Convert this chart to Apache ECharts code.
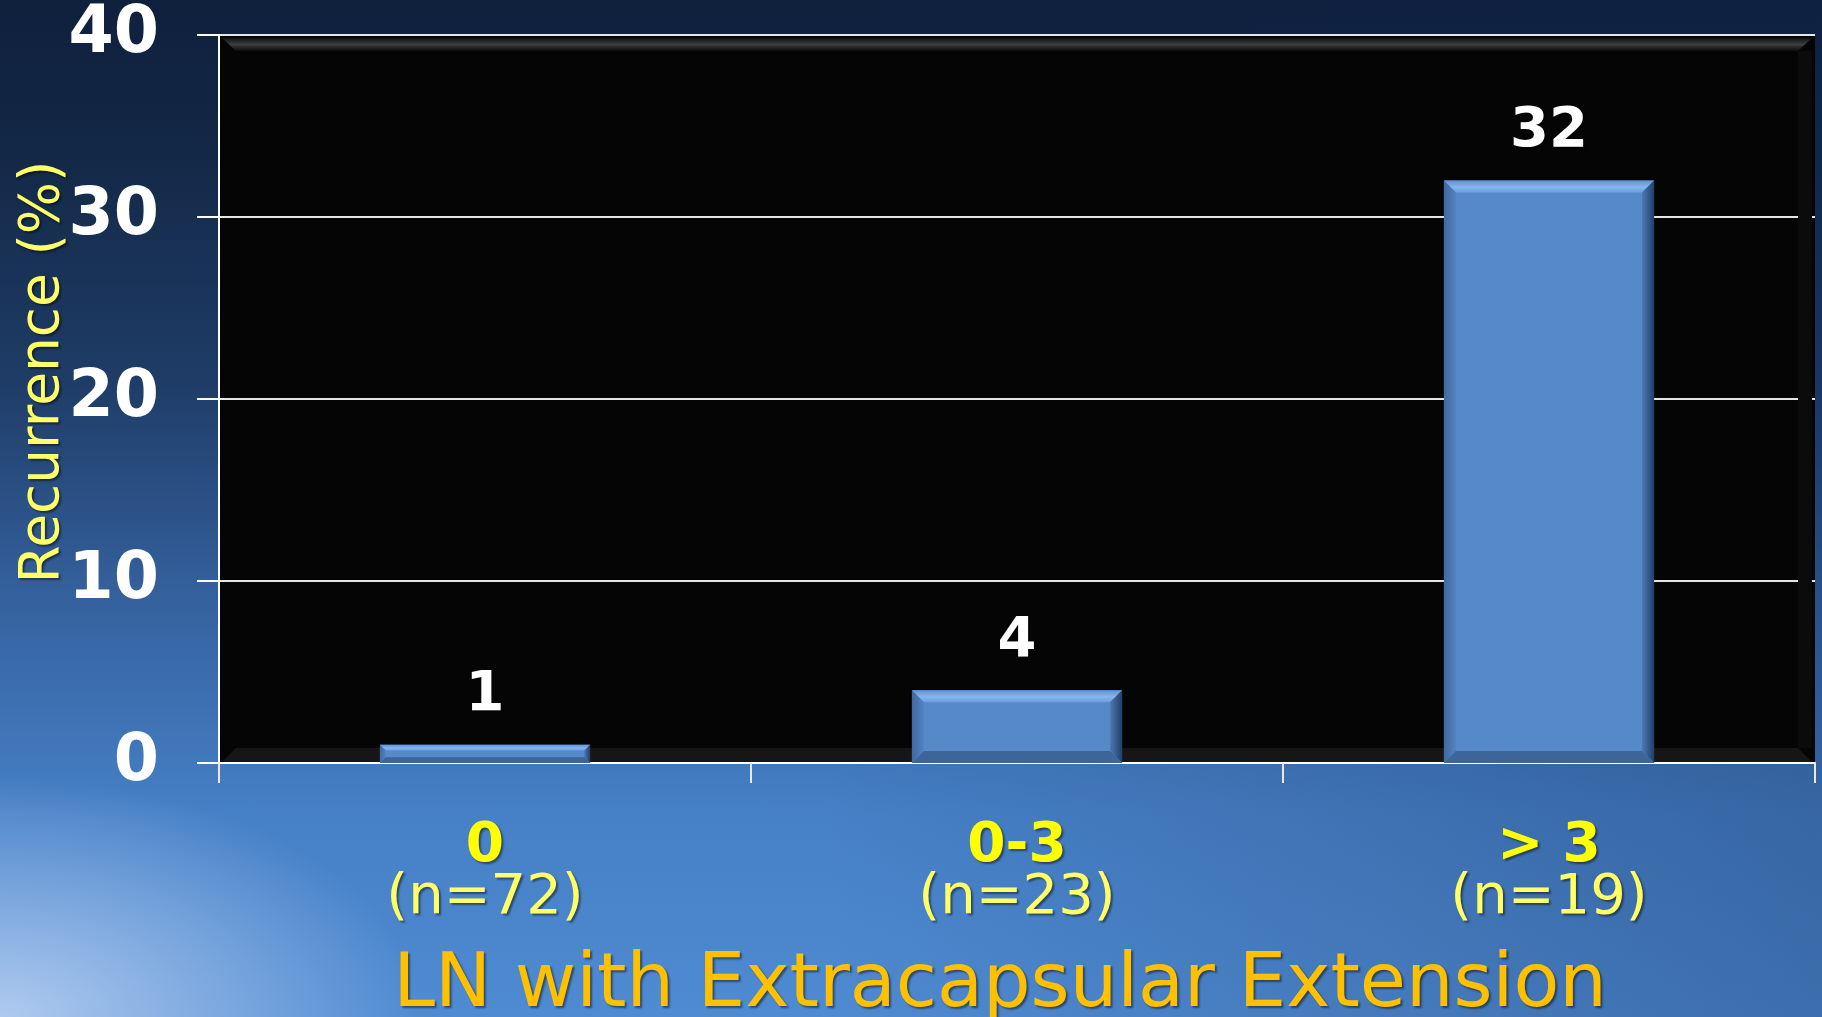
<!DOCTYPE html>
<html>
<head>
<meta charset="utf-8">
<script src="https://cdn.jsdelivr.net/npm/echarts@6/dist/echarts.min.js"></script>
<style>
  html, body { margin: 0; padding: 0; width: 1822px; height: 1017px; overflow: hidden; }
  body {
    background:
      radial-gradient(ellipse 560px 320px at 0% 100%, rgba(180,205,240,0.95), rgba(160,190,235,0) 75%),
      linear-gradient(90deg, rgba(0,0,0,0) 0%, rgba(0,0,0,0) 45%, rgba(15,35,75,0.28) 100%),
      linear-gradient(180deg, #0f203d 0%, #132846 15%, #1f3d68 38%, #34609c 58%, #4680c6 80%, #4f8bd2 100%);
  }
  #chart { width: 1822px; height: 1017px; }
</style>
</head>
<body>
<div id="chart"></div>
<script>
// Recurrence by number of lymph nodes with extracapsular extension
const categories = ['0', '0-3', '> 3'];
const groupSizes = [72, 23, 19];
const recurrence = [1, 4, 32];
const yTickValues = [0, 10, 20, 30, 40];

const GRID = { left: 219, right: 7, top: 35, bottom: 254 };
const W = 1822, H = 1017;
const plotRight = W - GRID.right;
const plotBottom = H - GRID.bottom;
const FONT = '"DejaVu Sans", Verdana, sans-serif';

const chart = echarts.init(document.getElementById('chart'), null, { renderer: 'canvas' });

function renderBar(params, api) {
  const idx = api.value(0);
  const v = api.value(1);
  const top = api.coord([idx, v]);
  const base = api.coord([idx, 0]);
  const bw = api.size([1, 0])[0] * 0.395;
  const x0 = top[0] - bw / 2, x1 = top[0] + bw / 2;
  const y0 = top[1], y1 = base[1];
  const h = y1 - y0;
  const b = Math.min(12, h * 0.32);
  return {
    type: 'group',
    children: [
      { type: 'rect', shape: { x: x0, y: y0, width: bw, height: h }, style: { fill: '#5689c8' } },
      { type: 'polygon', shape: { points: [[x0, y0], [x1, y0], [x1 - b, y0 + b], [x0 + b, y0 + b]] },
        style: { fill: new echarts.graphic.LinearGradient(0, 0, 0, 1, [
          { offset: 0, color: '#5f93d3' }, { offset: 0.55, color: '#86b6f0' }, { offset: 1, color: '#6a9edd' }]) } },
      { type: 'polygon', shape: { points: [[x0, y0], [x0 + b, y0 + b], [x0 + b, y1 - b], [x0, y1]] },
        style: { fill: new echarts.graphic.LinearGradient(0, 0, 1, 0, [
          { offset: 0, color: '#40699f' }, { offset: 1, color: '#5283c2' }]) } },
      { type: 'polygon', shape: { points: [[x1, y0], [x1, y1], [x1 - b, y1 - b], [x1 - b, y0 + b]] },
        style: { fill: new echarts.graphic.LinearGradient(0, 0, 1, 0, [
          { offset: 0, color: '#4b79b3' }, { offset: 1, color: '#243f66' }]) } },
      { type: 'polygon', shape: { points: [[x0, y1], [x1, y1], [x1 - b, y1 - b], [x0 + b, y1 - b]] },
        style: { fill: '#3d6598' } },
      { type: 'text', x: top[0], y: y0 - 49,
        style: { text: String(v), fill: '#ffffff', fontSize: 56, fontWeight: 'bold',
                 fontFamily: FONT, align: 'center', verticalAlign: 'middle',
                 textShadowColor: 'rgba(0,0,0,0.6)', textShadowOffsetX: 2, textShadowOffsetY: 2, textShadowBlur: 2 } }
    ]
  };
}

const shadow = { textShadowColor: 'rgba(0,0,0,0.45)', textShadowOffsetX: 2, textShadowOffsetY: 2, textShadowBlur: 2 };

const option = {
  backgroundColor: 'transparent',
  animation: false,
  grid: {
    left: GRID.left, right: GRID.right, top: GRID.top, bottom: GRID.bottom,
    outerBoundsMode: 'none', containLabel: false,
    show: true, backgroundColor: '#050505', borderWidth: 0
  },
  graphic: [
    { type: 'polygon', z: 1, silent: true,
      shape: { points: [[GRID.left + 3, GRID.top + 3], [plotRight - 3, GRID.top + 3], [plotRight - 17, GRID.top + 16], [GRID.left + 17, GRID.top + 16]] },
      style: { fill: new echarts.graphic.LinearGradient(0, 0, 0, 1, [
        { offset: 0, color: '#111111' }, { offset: 0.5, color: '#3e3e3e' }, { offset: 1, color: '#0c0c0c' }]) } },
    { type: 'polygon', z: 1, silent: true,
      shape: { points: [[GRID.left + 3, plotBottom - 1], [plotRight - 3, plotBottom - 1], [plotRight - 17, plotBottom - 15], [GRID.left + 17, plotBottom - 15]] },
      style: { fill: '#161616' } },
    { type: 'rect', z: 1, silent: true,
      shape: { x: plotRight - 17, y: GRID.top + 16, width: 14, height: plotBottom - GRID.top - 31 },
      style: { fill: '#0b0b0b' } }
  ],
  xAxis: {
    type: 'category',
    data: categories,
    name: 'LN with Extracapsular Extension',
    nameLocation: 'middle',
    nameGap: 186,
    nameTextStyle: Object.assign({
      color: '#ffc000', fontSize: 75, fontFamily: FONT, padding: [0, 34, 0, 0]
    }, shadow),
    axisLine: { show: true, lineStyle: { color: '#ffffff', width: 2 } },
    axisTick: { show: true, alignWithLabel: false, length: 20, lineStyle: { color: '#e8e8e8', width: 2 } },
    axisLabel: {
      margin: 59,
      interval: 0,
      formatter: (val, i) => '{c|' + val + '}\n{n|(n=' + groupSizes[i] + ')}',
      rich: {
        c: Object.assign({ color: '#ffff00', fontSize: 55, fontWeight: 'bold', fontFamily: FONT, lineHeight: 50 }, shadow),
        n: Object.assign({ color: '#ffff66', fontSize: 56, fontFamily: FONT, lineHeight: 52 }, shadow)
      }
    },
    splitLine: { show: false }
  },
  yAxis: {
    type: 'value',
    min: yTickValues[0],
    max: yTickValues[yTickValues.length - 1],
    interval: 10,
    name: 'Recurrence (%)',
    nameLocation: 'middle',
    nameGap: 148,
    nameRotate: 90,
    nameMoveOverlap: false,
    nameTextStyle: Object.assign({
      color: '#ffff66', fontSize: 55, fontFamily: FONT, padding: [0, 0, 0, 54]
    }, shadow),
    axisLine: { show: true, lineStyle: { color: '#ffffff', width: 2 } },
    axisTick: { show: true, length: 22, lineStyle: { color: '#ffffff', width: 2 } },
    axisLabel: {
      margin: 60, color: '#ffffff', fontSize: 65, fontWeight: 'bold', fontFamily: FONT
    },
    splitLine: { show: true, lineStyle: { color: '#e6e6e6', width: 2 } }
  },
  series: [{
    type: 'custom',
    z: 5,
    renderItem: renderBar,
    encode: { x: 0, y: 1 },
    data: recurrence.map((v, i) => [i, v])
  }]
};

chart.setOption(option);
</script>
</body>
</html>
